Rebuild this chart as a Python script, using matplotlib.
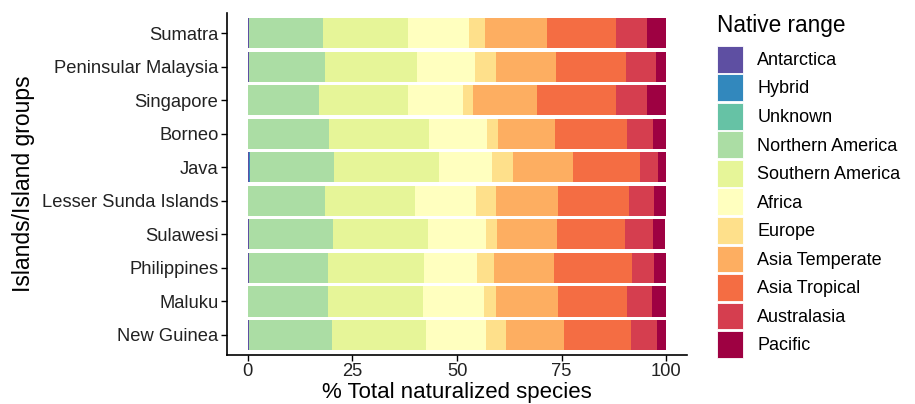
import numpy as np
import matplotlib as mpl
mpl.use("Agg")
import matplotlib.pyplot as plt
from matplotlib.patches import Patch

plt.rcParams.update({
    "font.family": ["Liberation Sans", "DejaVu Sans"],
    "axes.linewidth": 1.2,
})

islands = ["Sumatra", "Peninsular Malaysia", "Singapore", "Borneo", "Java",
           "Lesser Sunda Islands", "Sulawesi", "Philippines", "Maluku",
           "New Guinea"]
ranges = ["Antarctica", "Hybrid", "Unknown", "Northern America",
          "Southern America", "Africa", "Europe", "Asia Temperate",
          "Asia Tropical", "Australasia", "Pacific"]

# % of naturalized species per native range (rows follow `islands`)
antarctica = [0.2, 0.2, 0.1, 0.1, 0.3, 0.1, 0.3, 0.2, 0.1, 0.2]
hybrid     = [0.0, 0.0, 0.0, 0.0, 0.3, 0.0, 0.0, 0.0, 0.0, 0.0]
unknown    = [0.0, 0.0, 0.0, 0.0, 0.0, 0.0, 0.0, 0.0, 0.0, 0.0]
n_america  = [17.8, 18.3, 16.9, 19.3, 20.0, 18.3, 20.0, 19.0, 19.0, 20.0]
s_america  = [20.3, 21.9, 21.3, 24.0, 25.2, 21.6, 22.7, 23.0, 22.8, 22.3]
africa     = [14.5, 14.0, 13.2, 13.7, 12.6, 14.5, 13.9, 12.5, 14.5, 14.4]
europe     = [4.0, 5.0, 2.3, 2.6, 4.9, 4.7, 2.7, 4.1, 3.0, 4.7]
asia_temp  = [14.7, 14.3, 15.4, 13.7, 14.4, 15.0, 14.3, 14.3, 14.7, 13.9]
asia_trop  = [16.4, 16.8, 18.7, 17.3, 16.0, 16.9, 16.2, 18.8, 16.5, 16.0]
australas  = [7.6, 7.0, 7.6, 6.1, 4.3, 6.0, 6.7, 5.2, 5.9, 6.3]
pacific    = [4.5, 2.5, 4.5, 3.2, 2.0, 2.9, 2.9, 2.9, 3.5, 2.2]

series = [antarctica, hybrid, unknown, n_america, s_america, africa, europe,
          asia_temp, asia_trop, australas, pacific]
colors = ["#5E4FA2", "#3288BD", "#66C2A5", "#ABDDA4", "#E6F598", "#FFFFBF",
          "#FEE08B", "#FDAE61", "#F46D43", "#D53E4F", "#9E0142"]

fig = plt.figure(figsize=(9.15, 4.04), dpi=100)
ax = fig.add_axes([0.248, 0.121, 0.503, 0.847])

y = np.arange(len(islands))[::-1] + 1
left = np.zeros(len(islands))
for vals, c in zip(series, colors):
    v = np.array(vals)
    ax.barh(y, v, left=left, height=0.9, color=c, linewidth=0)
    left += v

ax.set_xlim(-5, 105)
ax.set_ylim(0.4, 10.6)
ax.set_yticks(y)
ax.set_yticklabels(islands, fontsize=13.2, color="#222222")
ax.set_xticks([0, 25, 50, 75, 100])
ax.set_xticklabels(["0", "25", "50", "75", "100"], fontsize=13.2,
                   color="#222222")
ax.tick_params(length=4, width=1.0, pad=2)
ax.spines["top"].set_visible(False)
ax.spines["right"].set_visible(False)
ax.set_xlabel("% Total naturalized species", fontsize=16, labelpad=1)
ax.set_ylabel("Islands/Island groups", fontsize=16.5, labelpad=5)

handles = [Patch(facecolor=c, edgecolor="white", linewidth=0.6)
           for c in colors]
leg = fig.legend(handles, ranges, loc="upper left",
                 bbox_to_anchor=(0.776, 0.982), frameon=False,
                 title="Native range", title_fontsize=16.3, fontsize=13,
                 handlelength=1.44, handleheight=1.9, labelspacing=0.1,
                 handletextpad=0.78, borderaxespad=0.0)
leg._legend_box.align = "left"
leg._legend_box.sep = 6

fig.savefig("out.png", dpi=100)
